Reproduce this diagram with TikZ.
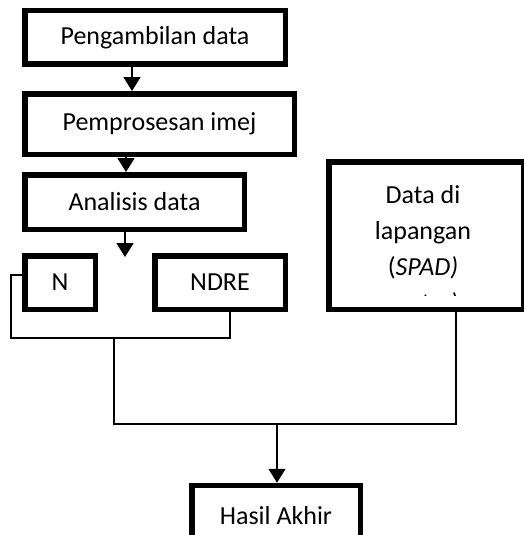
\documentclass[tikz,border=0pt]{standalone}
\usepackage{fontspec}
\setmainfont{Carlito}
\usetikzlibrary{arrows.meta}

\begin{document}
\begin{tikzpicture}[x=1pt, y=-1pt,
    kotak/.style={draw, line width=5.5pt, inner sep=0pt, font=\fontsize{26}{36}\selectfont},
    garis/.style={line width=1.6pt},
    panah/.style={line width=1.6pt, -{Triangle[width=17pt,length=14pt]}}]
\useasboundingbox (0,0) rectangle (523,535);
% Boxes
\node[kotak, minimum width=260.5pt, minimum height=53.5pt] (ambil) at (155,37.5) {Pengambilan data};
\node[kotak, minimum width=269.5pt, minimum height=60.5pt] (proses) at (159.5,124) {Pemprosesan imej};
\node[kotak, minimum width=219.5pt, minimum height=54.5pt] (analisis) at (134.5,202) {Analisis data};
\node[kotak, minimum width=70.5pt, minimum height=53.5pt] (n) at (60,282.5) {N};
\node[kotak, minimum width=130.5pt, minimum height=53.5pt] (ndre) at (220,282.5) {NDRE};
\node[kotak, minimum width=194.5pt, minimum height=147.5pt] (lapangan) at (426,235.5) {};
\node[kotak, minimum width=168.5pt, minimum height=60pt] (hasil) at (276,515.5) {Hasil Akhir};
% Text in the field box (last line is cut off)
\begin{scope}
\clip (330,162) rectangle (520,295);
\node[align=center, inner sep=0pt, font=\fontsize{26}{36}\selectfont] (teks) at (423,250)
    {Data di\\lapangan\\(\textit{SPAD)}\\\textit{meter)}};
\end{scope}
% Free ends
\coordinate (pecah) at (125,257);
\coordinate (sudut) at (11,338);
\coordinate (cabang) at (114,338);
\coordinate (gabung) at (277,424);
% Arrows
\draw[panah] (ambil.south -| 132,0) -- (proses.north -| 132,0);
\draw[panah] (proses.south -| 126,0) -- (analisis.north -| 126,0);
\draw[panah] (analisis.south -| 125,0) -- (pecah);
% Lines
\draw[garis] (n.west |- 0,275) -| (sudut) -| (ndre.south -| 230,0);
\draw[garis] (cabang) |- (gabung) -| (lapangan.south -| 456,0);
\draw[panah] (gabung) -- (hasil.north -| gabung);
\end{tikzpicture}
\end{document}
